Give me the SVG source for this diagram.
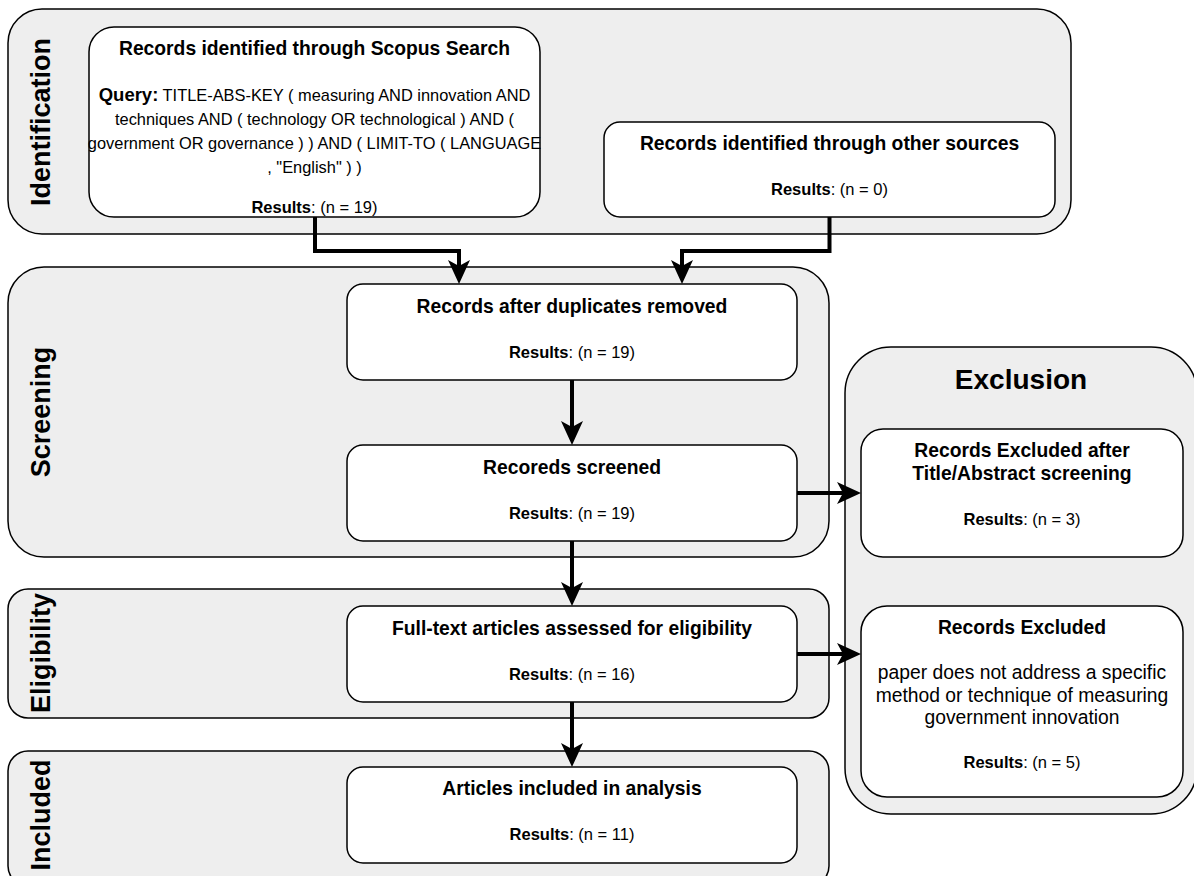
<svg xmlns="http://www.w3.org/2000/svg" width="1194" height="876" viewBox="0 0 1194 876">
<defs>
<marker id="arr" viewBox="0 0 24 24" refX="6" refY="12" markerWidth="24" markerHeight="24" markerUnits="userSpaceOnUse" orient="auto">
<path d="M0,1 L24,12 L0,23 L6,12 Z" fill="#000"/>
</marker>
</defs>
<style>
.panel{fill:#eeeeee;stroke:#000;stroke-width:1.5}
.box{fill:#fff;stroke:#000;stroke-width:1.5}
text{font-family:"Liberation Sans",Arial,Helvetica,sans-serif;fill:#000}
.lane{font-size:27px;font-weight:bold;text-anchor:middle}
.title{font-size:19.3px;font-weight:bold;text-anchor:middle}
.body{font-size:16.4px;text-anchor:middle}
.body19{font-size:19.3px;text-anchor:middle}
.res{font-size:16.5px;text-anchor:middle}
.b{font-weight:bold}
.conn{fill:none;stroke:#000;stroke-width:4;marker-end:url(#arr)}
</style>
<rect width="1194" height="876" fill="#fff"/>

<g id="lane-identification">
<rect class="panel" x="8" y="9" width="1063" height="225" rx="34"/>
<text class="lane" transform="translate(50,122) rotate(-90)">Identification</text>
</g>
<g id="lane-screening">
<rect class="panel" x="8" y="267" width="821" height="290" rx="36"/>
<text class="lane" transform="translate(50,412) rotate(-90)">Screening</text>
</g>
<g id="lane-eligibility">
<rect class="panel" x="8" y="589" width="821" height="129" rx="20"/>
<text class="lane" transform="translate(50,653) rotate(-90)">Eligibility</text>
</g>
<g id="lane-included">
<rect class="panel" x="8" y="751" width="821" height="135" rx="20"/>
<text class="lane" transform="translate(50,815) rotate(-90)">Included</text>
</g>
<g id="lane-exclusion">
<rect class="panel" x="845" y="347" width="352" height="467" rx="46"/>
<text x="1021" y="389" style="font-size:28px;font-weight:bold;text-anchor:middle">Exclusion</text>
</g>

<g id="scopus">
<rect class="box" x="89" y="27" width="451" height="190" rx="25"/>
<text class="title" x="314.5" y="55">Records identified through Scopus Search</text>
<text class="body" x="314.5" y="100.5"><tspan style="font-size:18.5px;font-weight:bold">Query:</tspan> TITLE-ABS-KEY ( measuring AND innovation AND</text>
<text class="body" x="314.5" y="124.5">techniques AND ( technology OR technological ) AND (</text>
<text class="body" x="314.5" y="148.5">government OR governance ) ) AND ( LIMIT-TO ( LANGUAGE</text>
<text class="body" x="314.5" y="172.5">, "English" ) )</text>
<text class="res" x="314.5" y="213"><tspan class="b">Results</tspan>: (n = 19)</text>
</g>
<g id="other-sources">
<rect class="box" x="604" y="122" width="451" height="95" rx="16"/>
<text class="title" x="829.5" y="150">Records identified through other sources</text>
<text class="res" x="829.5" y="195"><tspan class="b">Results</tspan>: (n = 0)</text>
</g>
<g id="duplicates-removed">
<rect class="box" x="347" y="284" width="450" height="96" rx="16"/>
<text class="title" x="572" y="313">Records after duplicates removed</text>
<text class="res" x="572" y="358"><tspan class="b">Results</tspan>: (n = 19)</text>
</g>
<g id="screened">
<rect class="box" x="347" y="445" width="450" height="96" rx="16"/>
<text class="title" x="572" y="474">Recoreds screened</text>
<text class="res" x="572" y="519"><tspan class="b">Results</tspan>: (n = 19)</text>
</g>
<g id="full-text">
<rect class="box" x="347" y="606" width="450" height="96" rx="16"/>
<text class="title" x="572" y="635">Full-text articles assessed for eligibility</text>
<text class="res" x="572" y="680"><tspan class="b">Results</tspan>: (n = 16)</text>
</g>
<g id="included">
<rect class="box" x="347" y="767" width="450" height="96" rx="16"/>
<text class="title" x="572" y="795">Articles included in analysis</text>
<text class="res" x="572" y="840"><tspan class="b">Results</tspan>: (n = 11)</text>
</g>
<g id="excluded-screening">
<rect class="box" x="861" y="429" width="322" height="128" rx="22"/>
<text class="title" x="1022" y="457">Records Excluded after</text>
<text class="title" x="1022" y="480">Title/Abstract screening</text>
<text class="res" x="1022" y="525"><tspan class="b">Results</tspan>: (n = 3)</text>
</g>
<g id="excluded-eligibility">
<rect class="box" x="861" y="606" width="322" height="191" rx="26"/>
<text class="title" x="1022" y="634">Records Excluded</text>
<text class="body19" x="1022" y="679">paper does not address a specific</text>
<text class="body19" x="1022" y="701.5">method or technique of measuring</text>
<text class="body19" x="1022" y="724">government innovation</text>
<text class="res" x="1022" y="768"><tspan class="b">Results</tspan>: (n = 5)</text>
</g>

<g id="connectors">
<path class="conn" d="M315,217 V251 H459 V266"/>
<path class="conn" d="M829.5,217 V251 H682 V266"/>
<path class="conn" d="M572,380 V427"/>
<path class="conn" d="M572,541 V588"/>
<path class="conn" d="M572,702 V749"/>
<path class="conn" d="M797,493 H843"/>
<path class="conn" d="M797,654 H843"/>
</g>
</svg>
